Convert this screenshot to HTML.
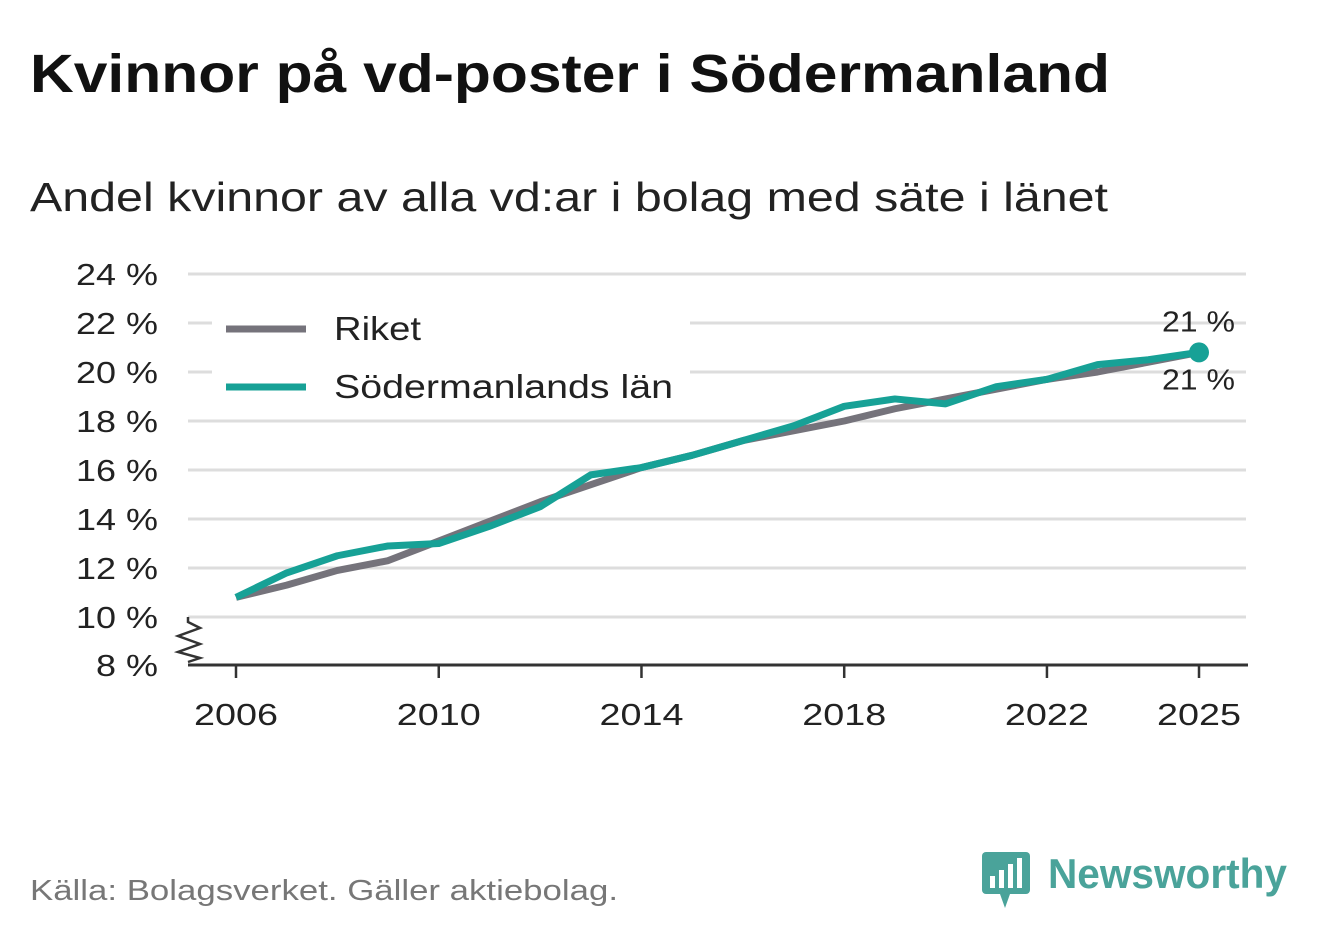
<!DOCTYPE html>
<html><head><meta charset="utf-8"><style>
body{margin:0;background:#fff;width:1322px;height:939px;overflow:hidden;font-family:"Liberation Sans","DejaVu Sans",sans-serif;}
</style></head><body>
<svg width="1322" height="939" viewBox="0 0 1322 939" xmlns="http://www.w3.org/2000/svg" font-family="Liberation Sans, DejaVu Sans, sans-serif">
<text x="30" y="92" font-size="54" font-weight="bold" fill="#111" textLength="1080" lengthAdjust="spacingAndGlyphs">Kvinnor på vd-poster i Södermanland</text>
<text x="30" y="211" font-size="41" fill="#222" textLength="1078" lengthAdjust="spacingAndGlyphs">Andel kvinnor av alla vd:ar i bolag med säte i länet</text>
<g id="plot"></g>
<text x="30" y="900" font-size="29" fill="#777" textLength="588" lengthAdjust="spacingAndGlyphs">Källa: Bolagsverket. Gäller aktiebolag.</text>
<g>
<rect x="982" y="852" width="48" height="42" rx="4" fill="#4aa39a"/>
<polygon points="1000,894 1010,894 1005,908" fill="#4aa39a"/>
<rect x="990" y="876" width="5" height="12" fill="#fff"/><rect x="999" y="870" width="5" height="18" fill="#fff"/><rect x="1008" y="864" width="5" height="24" fill="#fff"/><rect x="1017" y="858" width="5" height="30" fill="#fff"/>
<text x="1048" y="888" font-size="42" font-weight="bold" fill="#4aa39a" textLength="239" lengthAdjust="spacingAndGlyphs">Newsworthy</text>
</g>
</svg>
<script>
const years=[2006,2007,2008,2009,2010,2011,2012,2013,2014,2015,2016,2017,2018,2019,2020,2021,2022,2023,2024,2025];
const riket=[10.8,11.3,11.9,12.3,13.1,13.9,14.7,15.4,16.1,16.6,17.2,17.6,18.0,18.5,18.9,19.3,19.7,20.0,20.4,20.8];
const sodermanland=[10.8,11.8,12.5,12.9,13.0,13.7,14.5,15.8,16.1,16.6,17.2,17.8,18.6,18.9,18.7,19.4,19.7,20.3,20.5,20.8];
const yTicks=[8,10,12,14,16,18,20,22,24];
const xTicks=[2006,2010,2014,2018,2022,2025];
const NS="http://www.w3.org/2000/svg";
const g=document.getElementById('plot');
function X(y){return 236+(y-2006)*(1199-236)/19;}
function Y(v){return v<=10?617+(10-v)*24:617-(v-10)*24.5;}
function mk(t,a){const e=document.createElementNS(NS,t);for(const k in a)e.setAttribute(k,a[k]);g.appendChild(e);return e;}
yTicks.forEach(v=>{
 if(v>8){const l=mk('line',{x1:188,x2:1246,y1:Y(v),y2:Y(v),stroke:'#ddd','stroke-width':3});
 
 }
 const t=mk('text',{x:158,y:(v==8?665:Y(v))+11,'font-size':31,'text-anchor':'end',fill:'#222',textLength:82,lengthAdjust:'spacingAndGlyphs'});t.textContent=v+' %';
 if(v<10){t.setAttribute('textLength',62);}
 
 
});
const lb=mk('rect',{x:212,y:300,width:478,height:112,fill:'#fff'});


const ax=mk('line',{x1:188,x2:1248,y1:665,y2:665,stroke:'#333','stroke-width':3});


const zz=mk('polyline',{points:'188,617 188,622 200,628 178,636 200,644 178,652 200,658 188,662',fill:'none',stroke:'#333','stroke-width':2.5});


xTicks.forEach(y=>{
 const l=mk('line',{x1:X(y),x2:X(y),y1:665,y2:678,stroke:'#333','stroke-width':2.5});
 
 
 const t=mk('text',{x:X(y),y:725,'font-size':31,'text-anchor':'middle',fill:'#222',textLength:84,lengthAdjust:'spacingAndGlyphs'});t.textContent=y;
 
 
});
function line(d,c,n){const p=mk('polyline',{points:d.map((v,i)=>X(years[i])+','+Y(v)).join(' '),fill:'none',stroke:c,'stroke-width':7,'stroke-linejoin':'round'});
 
 }
line(riket,'#75737b','line-riket');
line(sodermanland,'#17a196','line-sodermanland');
const last=sodermanland.length-1;
const dot=mk('circle',{cx:X(years[last]),cy:Y(sodermanland[last]),r:10,fill:'#17a196'});


const l1=mk('text',{x:1235,y:Y(sodermanland[last])-21,'font-size':29,'text-anchor':'end',fill:'#222',textLength:73,lengthAdjust:'spacingAndGlyphs'});l1.textContent=Math.round(sodermanland[last])+' %';


const l2=mk('text',{x:1235,y:Y(riket[last])+37,'font-size':29,'text-anchor':'end',fill:'#222',textLength:73,lengthAdjust:'spacingAndGlyphs'});l2.textContent=Math.round(riket[last])+' %';


[['Riket','#75737b',329,87],['Södermanlands län','#17a196',387,339]].forEach(([n,c,y,w])=>{
 const r=mk('line',{x1:226,x2:306,y1:y,y2:y,stroke:c,'stroke-width':7});
 
 
 const t=mk('text',{x:334,y:y+11,'font-size':33,fill:'#222',textLength:w,lengthAdjust:'spacingAndGlyphs'});t.textContent=n;
 
 
});
</script>
</body></html>
